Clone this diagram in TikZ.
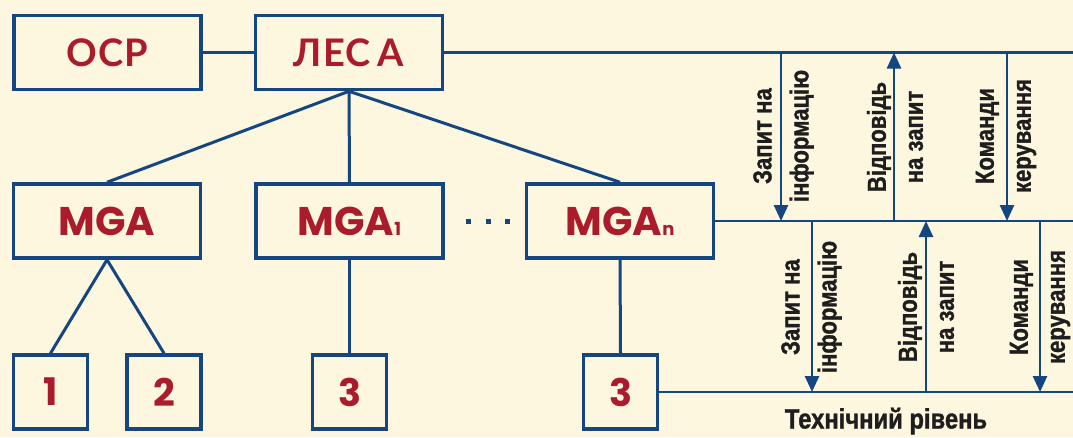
\documentclass[tikz,border=0pt]{standalone}
\usepackage{fontspec}
\usetikzlibrary{arrows.meta}
\newfontfamily\boxfont{Poppins}
\newfontfamily\cyrboxfont[LetterSpace=3]{Lato}
\newfontfamily\lblfont[FakeStretch=0.85,FakeBold=1.2]{Liberation Sans Bold}
\definecolor{bg}{RGB}{253,247,224}
\definecolor{lineblue}{RGB}{22,70,128}
\definecolor{boxred}{RGB}{170,28,44}
\definecolor{lbltext}{RGB}{30,30,30}
\tikzset{
  box/.style={draw=lineblue, line width=3.5pt, inner sep=0pt, text=boxred},
  bigbox/.style={box, minimum width=187pt, minimum height=74pt},
  smallbox/.style={box, minimum width=74pt, minimum height=74pt},
  conn/.style={draw=lineblue, line width=3pt},
  bus/.style={draw=lineblue, line width=2.6pt},
  flow/.style={draw=lineblue, line width=2.6pt, -{Triangle[width=14pt,length=16pt]}},
  vlabel/.style={rotate=90, align=center, text=lbltext, inner sep=0pt,
    font=\lblfont\fontsize{26}{37}\selectfont},
  dotmark/.style={fill=lineblue, minimum size=5pt, inner sep=0pt}
}
\begin{document}
\begin{tikzpicture}[x=1pt,y=-1pt]
\fill[bg] (0,0) rectangle (1073,437);
\useasboundingbox (0,0) rectangle (1073,437);
% top row
\node[bigbox, font=\cyrboxfont\bfseries\fontsize{38}{38}\selectfont] (ocp) at (107.5,52.5) {ОСР};
\node[bigbox, font=\cyrboxfont\bfseries\fontsize{38}{38}\selectfont] (lesa) at (349,52.5) {ЛЕС\hspace{7pt}А};
% middle row
\node[bigbox, font=\boxfont\bfseries\fontsize{40}{40}\selectfont] (mga) at (107,221) {MGA};
\node[bigbox, font=\boxfont\bfseries\fontsize{40}{40}\selectfont] (mga1) at (349.5,221) {MGA{\fontsize{18}{18}\selectfont 1}};
\node[bigbox, font=\boxfont\bfseries\fontsize{40}{40}\selectfont] (mgan) at (620,221) {MGA{\fontsize{18}{18}\selectfont n}};
% dots
\node[dotmark] (d1) at (468,221) {};
\node[dotmark] (d2) at (488,221) {};
\node[dotmark] (d3) at (507,221) {};
% bottom row
\node[smallbox, font=\boxfont\bfseries\fontsize{38}{38}\selectfont] (b1) at (50.5,392) {1};
\node[smallbox, font=\boxfont\bfseries\fontsize{38}{38}\selectfont] (b2) at (164,392) {2};
\node[smallbox, font=\boxfont\bfseries\fontsize{38}{38}\selectfont] (b3a) at (349.5,392) {3};
\node[smallbox, font=\boxfont\bfseries\fontsize{38}{38}\selectfont] (b3b) at (620.5,392) {3};
% tree connectors
\draw[conn] (ocp.east) -- (lesa.west);
\draw[conn] (lesa.south) -- (mga.north);
\draw[conn] (lesa.south) -- (mga1.north);
\draw[conn] (lesa.south) -- (mgan.north);
\draw[conn] (mga.south) -- (b1.north);
\draw[conn] (mga.south) -- (b2.north);
\draw[conn] (mga1.south) -- (b3a.north);
\draw[conn] (mgan.south) -- (b3b.north);
% buses
\coordinate (r1) at (1073,52.5);
\coordinate (r2) at (1073,221);
\coordinate (r3) at (1073,392);
\draw[bus] (lesa.east) -- (r1);
\draw[bus] (mgan.east) -- (r2);
\draw[bus] (b3b.east) -- (r3);
% arrow end points
\coordinate (t1) at (781,52.5);  \coordinate (m1) at (781,221);
\coordinate (t2) at (894,52.5);  \coordinate (m2) at (894,221);
\coordinate (t3) at (1007,52.5); \coordinate (m3) at (1007,221);
\coordinate (u1) at (812,221);   \coordinate (l1) at (812,392);
\coordinate (u2) at (926,221);   \coordinate (l2) at (926,392);
\coordinate (u3) at (1040,221);  \coordinate (l3) at (1040,392);
\draw[flow] (t1) -- (m1);
\draw[flow] (m2) -- (t2);
\draw[flow] (t3) -- (m3);
\draw[flow] (u1) -- (l1);
\draw[flow] (l2) -- (u2);
\draw[flow] (u3) -- (l3);
% labels
\node[vlabel] (q1) at (783.5,136) {Запит на\\інформацію};
\node[vlabel] (a1) at (895,137) {Відповідь\\на запит};
\node[vlabel] (c1) at (1006,136) {Команди\\керування};
\node[vlabel] (q2) at (811.5,307) {Запит на\\інформацію};
\node[vlabel] (a2) at (926,307) {Відповідь\\на запит};
\node[vlabel] (c2) at (1040,307) {Команди\\керування};
\node[text=lbltext, inner sep=0pt, font=\lblfont\fontsize{28}{30}\selectfont] (tech) at (886,421) {Технічний рівень};
\end{tikzpicture}
\end{document}
